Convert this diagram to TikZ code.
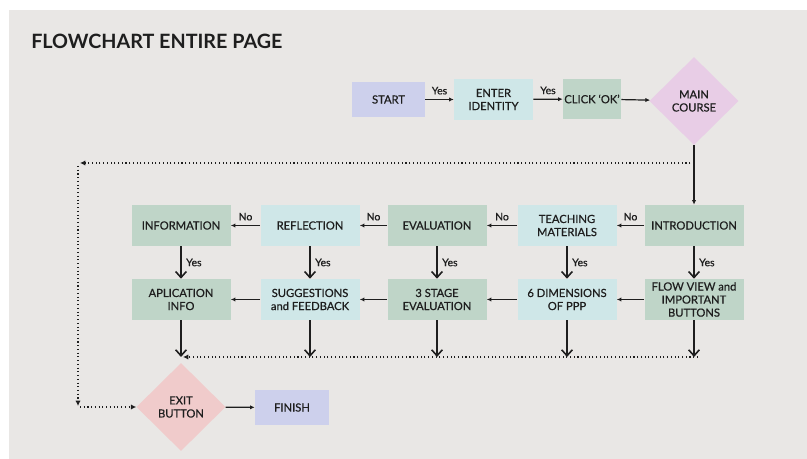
\documentclass[tikz,border=0pt]{standalone}
\usepackage{fontspec}
\setmainfont{Lato}
\newfontfamily\boxfont{Lato}[FakeBold=0.6]
\usepackage{tikz}
\usetikzlibrary{shapes.geometric, arrows.meta, positioning, calc}

\definecolor{panelgray}{HTML}{E9E7E5}
\definecolor{lavbox}{HTML}{CDD0EC}
\definecolor{cyanbox}{HTML}{CFE7E8}
\definecolor{sagebox}{HTML}{BFD5C8}
\definecolor{lilacdia}{HTML}{E8CDE6}
\definecolor{pinkdia}{HTML}{F0CBCB}
\definecolor{inkc}{HTML}{1E1E1E}

\begin{document}
\begin{tikzpicture}[x=0.75pt, y=-0.75pt, every node/.style={font=\boxfont\fontsize{8.4}{9.8}\selectfont, text=inkc}]

			\tikzstyle{boxr}=[rectangle, draw=none, minimum width=74.25pt, minimum height=30.75pt, inner sep=1pt, align=center]
			\tikzstyle{diam}=[diamond, aspect=1, draw=none, minimum width=66.75pt, minimum height=66pt, inner sep=0pt, align=center]
			\tikzstyle{harr}=[draw=inkc, line width=0.9pt, -{Latex[length=3.5pt,width=3.2pt]}]
			\tikzstyle{varr}=[draw=inkc, line width=1.2pt, -{Straight Barb[length=4.5pt,width=8pt]}]
			\tikzstyle{dotarr}=[draw=inkc, dotted, line width=0.8pt, -{Latex[length=4pt,width=4pt]}]
			\tikzstyle{lbl}=[font=\boxfont\fontsize{7.8}{9}\selectfont]

			%% page and panel
			\fill[white] (0,0) rectangle (807,459);
			\fill[panelgray] (9,10) rectangle (807,459);
			\useasboundingbox (0,0) rectangle (807,459);

			\node (title) at (31,41) [anchor=west, inner sep=0pt, font=\rmfamily\bfseries\fontsize{14.8}{17}\selectfont] {FLOWCHART ENTIRE PAGE};

			%% top line
			\node (start) at (388.5,99.5) [boxr, fill=lavbox, minimum width=54.75pt, minimum height=26.25pt] {START};
			\node (enter) at (493.5,99.5) [boxr, fill=cyanbox, minimum width=59.25pt] {ENTER\\IDENTITY};
			\node (click) at (592,99) [boxr, fill=sagebox, minimum width=43.5pt, minimum height=30pt] {CLICK ‘OK’};
			\node (main) at (694,101) [diam, fill=lilacdia] {MAIN\\COURSE};

			%% first row
			\node (info) at (181,225.5) [boxr, fill=sagebox] {INFORMATION};
			\node (refl) at (310,225.5) [boxr, fill=cyanbox] {REFLECTION};
			\node (eval) at (437,225.5) [boxr, fill=sagebox] {EVALUATION};
			\node (teach) at (567,225.5) [boxr, fill=cyanbox] {TEACHING\\MATERIALS};
			\node (intro) at (694,225.5) [boxr, fill=sagebox] {INTRODUCTION};

			%% second row
			\node (app) at (181,299.5) [boxr, fill=sagebox] {APLICATION\\INFO};
			\node (sugg) at (310,299.5) [boxr, fill=cyanbox] {SUGGESTIONS\\and FEEDBACK};
			\node (stage) at (437,299.5) [boxr, fill=sagebox] {3 STAGE\\EVALUATION};
			\node (dims) at (567,299.5) [boxr, fill=cyanbox] {6 DIMENSIONS\\OF PPP};
			\node (flow) at (694,299.5) [boxr, fill=sagebox] {FLOW VIEW and\\IMPORTANT\\BUTTONS};

			%% end
			\node (exit) at (181,407) [diam, fill=pinkdia] {EXIT\\BUTTON};
			\node (finish) at (292,407.5) [boxr, fill=lavbox, minimum width=55.5pt, minimum height=26.25pt] {FINISH};

			%% free ends
			\coordinate (loopA) at (694,163);
			\coordinate (loopB) at (80,163);
			\coordinate (loopC) at (78,166);
			\coordinate (loopD) at (78,406);
			\coordinate (loopE) at (80,407);
			\coordinate (botR) at (698,357);
			\coordinate (botL) at (183,357);
			\foreach \n/\c in {b1/app, b2/sugg, b3/stage, b4/dims, b5/flow}
				\coordinate (\n) at (\c.south |- botR);

			\draw[harr] (start) -- (enter) node [midway, above, lbl] {Yes};
			\draw[harr] (enter) -- (click) node [midway, above, lbl] {Yes};
			\draw[harr] (click) -- (main);
			\draw[harr] (main) -- (intro);

			\draw[harr] (intro) -- (teach) node [midway, above, lbl] {No};
			\draw[harr] (teach) -- (eval) node [midway, above, lbl] {No};
			\draw[harr] (eval) -- (refl) node [midway, above, lbl] {No};
			\draw[harr] (refl) -- (info) node [midway, above, lbl] {No};

			\draw[varr] (intro) -- (flow) node [midway, right, lbl] {Yes};
			\draw[varr] (teach) -- (dims) node [midway, right, lbl] {Yes};
			\draw[varr] (eval) -- (stage) node [midway, right, lbl] {Yes};
			\draw[varr] (refl) -- (sugg) node [midway, right, lbl] {Yes};
			\draw[varr] (info) -- (app) node [midway, right, lbl] {Yes};

			\draw[harr] (flow) -- (dims);
			\draw[harr] (dims) -- (stage);
			\draw[harr] (stage) -- (sugg);
			\draw[harr] (sugg) -- (app);

			\draw[varr] (app) -- (b1);
			\draw[varr] (sugg) -- (b2);
			\draw[varr] (stage) -- (b3);
			\draw[varr] (dims) -- (b4);
			\draw[varr] (flow) -- (b5);
			\draw[dotarr] (botR) -- (botL);

			\draw[dotarr] (loopA) -- (loopB);
			\draw[dotarr] (loopC) -- (loopD);
			\draw[dotarr] (loopE) -- (exit);
			\draw[harr] (exit) -- (finish);

\end{tikzpicture}
\end{document}
